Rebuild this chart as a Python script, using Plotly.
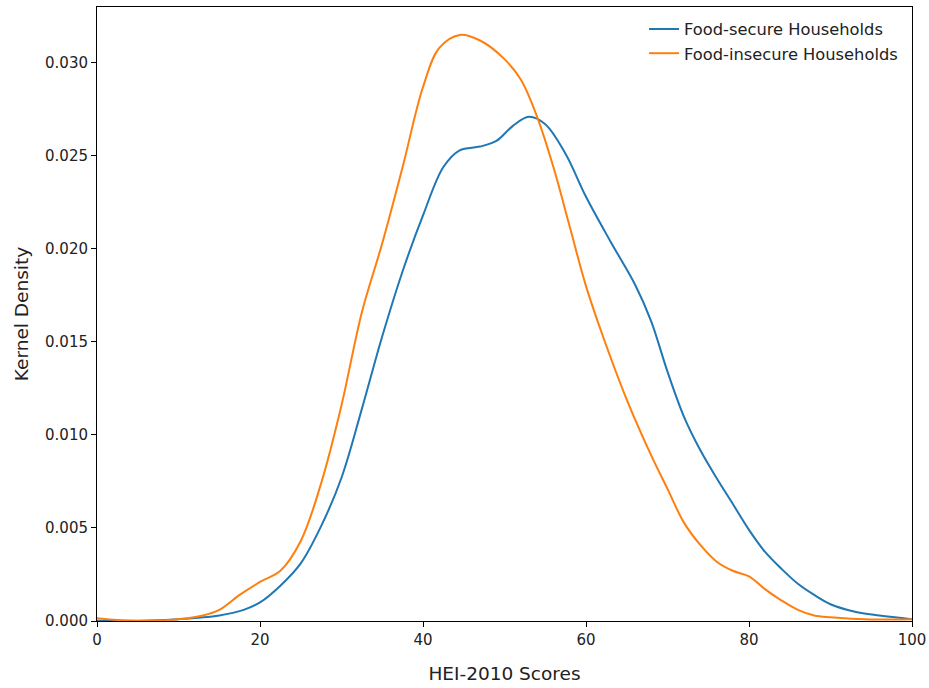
import plotly.graph_objects as go

# HEI-2010 score grid and estimated kernel densities for each household group
secure_x = [0, 5, 10, 15, 18, 20, 22.5, 25, 27.5, 30, 32.5, 35, 37.5, 40, 42.5, 44.5, 47,
            49, 51, 53, 55, 57.5, 60, 63, 66, 68, 70, 72, 74, 76, 78, 80, 82, 84, 86,
            88, 90, 93, 96, 100]
secure_y = [0.00002, 0.00002, 0.0001, 0.0003, 0.0006, 0.001, 0.0019, 0.0031, 0.0051,
            0.0077, 0.0114, 0.0153, 0.0188, 0.0218, 0.0244, 0.0253, 0.0255,
            0.0258, 0.0266, 0.0271, 0.0267, 0.0251, 0.0228, 0.0204, 0.0181, 0.0161,
            0.0134, 0.0110, 0.0092, 0.0077, 0.0063, 0.0049, 0.0037, 0.0028, 0.0020,
            0.0014, 0.0009, 0.0005, 0.0003, 0.0001]

insecure_x = [0, 5, 10, 13, 15, 17.5, 20, 22.5, 25, 27.5, 30, 32.5, 35, 37.5, 40, 42,
              44.5, 47, 50, 52, 54, 56, 58, 60, 62, 65, 68, 70, 72, 74, 76, 78, 80,
              82, 84, 86, 88, 90, 95, 100]
insecure_y = [0.00015, 0.0, 0.0001, 0.0003, 0.0006, 0.0014, 0.0021, 0.0027, 0.0043,
              0.0074, 0.0116, 0.0166, 0.0203, 0.0244, 0.0287, 0.0308,
              0.0315, 0.0312, 0.0302, 0.0291, 0.0271, 0.0244, 0.0212, 0.0180,
              0.0154, 0.0119, 0.0089, 0.0071, 0.0053, 0.0041, 0.0032, 0.0027, 0.0024,
              0.0017, 0.0011, 0.0006, 0.0003, 0.0002, 0.00008, 0.0001]

series_names = ["Food-secure Households", "Food-insecure Households"]
series_colors = ["#1f77b4", "#ff7f0e"]

x_ticks = [0, 20, 40, 60, 80, 100]
y_ticks = [0.0, 0.005, 0.010, 0.015, 0.020, 0.025, 0.030]

font_family = "DejaVu Sans, Arial, sans-serif"

fig = go.Figure()
for xs, ys, name, color in [
    (secure_x, secure_y, series_names[0], series_colors[0]),
    (insecure_x, insecure_y, series_names[1], series_colors[1]),
]:
    fig.add_trace(go.Scatter(
        x=xs, y=ys, mode="lines", name=name,
        line=dict(color=color, width=2, shape="spline", smoothing=1.0),
    ))

axis_common = dict(
    showline=True, linecolor="black", linewidth=1, mirror=True,
    ticks="outside", ticklen=5, tickwidth=1, tickcolor="black",
    showgrid=False, zeroline=False, automargin=False,
    tickfont=dict(family=font_family, size=15, color="#222222"),
)

fig.update_layout(
    width=929, height=688,
    margin=dict(l=97, r=17, t=7, b=67),
    paper_bgcolor="white", plot_bgcolor="white",
    font=dict(family=font_family, color="#222222"),
    showlegend=True,
    legend=dict(
        x=0.989, y=0.992, xanchor="right", yanchor="top",
        bgcolor="rgba(0,0,0,0)", borderwidth=0,
        font=dict(family=font_family, size=16.3, color="#222222"),
    ),
    xaxis=dict(
        range=[0, 100], tickvals=x_ticks,
        title=dict(text="HEI-2010 Scores", standoff=19,
                   font=dict(family=font_family, size=18.5, color="#222222")),
        **axis_common,
    ),
    yaxis=dict(
        range=[0, 0.0330], tickvals=y_ticks, tickformat=".3f",
        title=dict(text="Kernel Density", standoff=11,
                   font=dict(family=font_family, size=18.5, color="#222222")),
        **axis_common,
    ),
)

fig.write_html("out.html")
